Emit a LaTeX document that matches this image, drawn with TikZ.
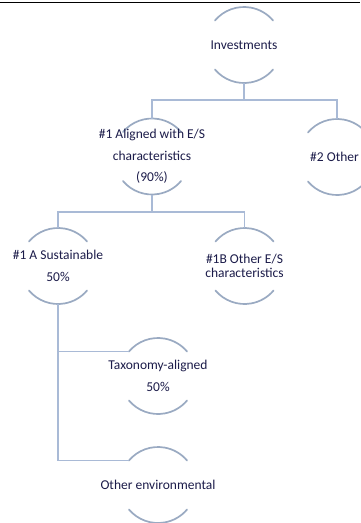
\documentclass[tikz,border=0pt]{standalone}
\usepackage{fontspec}
\setmainfont{Carlito}
\definecolor{navy}{HTML}{1C1C4A}
\definecolor{connc}{HTML}{A9BAD6}
\definecolor{arcc}{HTML}{9AAAC2}
\tikzset{
  ring/.style={circle, minimum size=76pt, inner sep=0pt, outer sep=0pt, draw=none},
  lbl/.style={text=navy, font=\fontsize{13.5}{21.5}\selectfont, align=center, inner sep=0pt},
  lbltight/.style={text=navy, font=\fontsize{13.5}{13.5}\selectfont, align=center, inner sep=0pt},
  conn/.style={draw=connc, line width=1.8pt},
  arcline/.style={draw=arcc, line width=1.7pt, line cap=round},
}
\begin{document}
\begin{tikzpicture}[x=1pt, y=-1pt]
\useasboundingbox (0,0) rectangle (360,523);
\fill[white] (0,0) rectangle (360,523);
\coordinate (topL) at (0,2.5);
\coordinate (topR) at (360,2.5);
\draw[line width=1.7pt, black] (topL) -- (topR);

% rings
\node[ring] (inv) at (244,45) {};
\node[ring] (al) at (152,156.5) {};
\node[ring] (oth) at (337,157) {};
\node[ring] (sus) at (58,266) {};
\node[ring] (oes) at (244.5,266) {};
\node[ring] (tax) at (158,376) {};
\node[ring] (env) at (158,485) {};

\foreach \n in {inv,al,oth,sus,oes,tax,env}{
  \draw[arcline] (\n.140) arc[start angle=140, end angle=40, radius=38pt];
  \draw[arcline] (\n.220) arc[start angle=220, end angle=320, radius=38pt];
}

% labels
\node[lbl] (invt) at (inv) {Investments};
\node[lbl] (alt) at (al) {\#1 Aligned with E/S\\characteristics\\(90\%)};
\node[lbl, anchor=east] (otht) at (359,157) {\#2 Other};
\node[lbl] (sust) at (sus) {\#1 A Sustainable\\50\%};
\node[lbltight] (oest) at (oes) {\#1B Other E/S\\characteristics};
\node[lbl] (taxt) at (tax) {Taxonomy-aligned\\50\%};
\node[lbl] (envt) at (env) {Other environmental};

% connectors
\coordinate (b1) at (244,100);
\coordinate (b2) at (152,211.7);
\draw[conn] (inv.south) -- (b1);
\draw[conn] (al.north) |- (b1) -| (oth.north);
\draw[conn] (al.south) -- (b2);
\draw[conn] (sus.north) |- (b2) -| (oes.north);
\draw[conn] (sus.south) |- (tax.140);
\draw[conn] (sus.south) |- (env.140);
\end{tikzpicture}
\end{document}
